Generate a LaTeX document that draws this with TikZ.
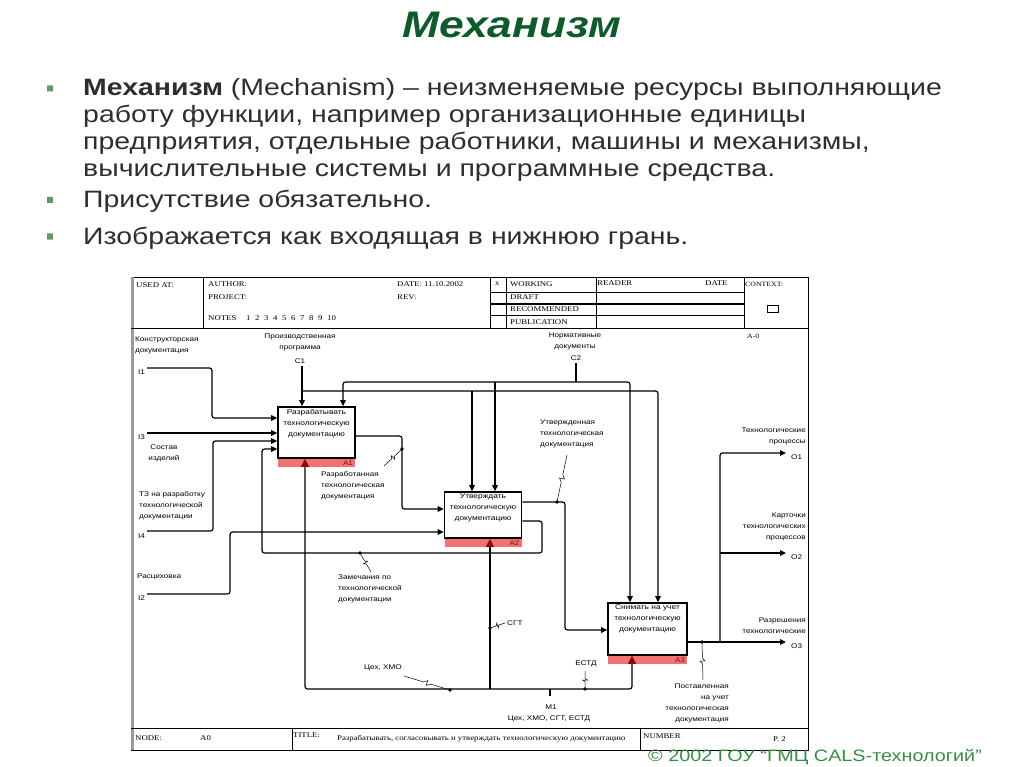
\documentclass[tikz,border=0pt]{standalone}
\usepackage{fontspec}
\setmainfont{Liberation Sans}
\newfontfamily\slidefont[FakeStretch=1.2]{Liberation Sans}
\newfontfamily\formfont[FakeStretch=1.2]{Liberation Serif}
\usepackage{xcolor}
\usepackage{tikz}
\usetikzlibrary{calc,positioning,arrows.meta}
\definecolor{SlideGreen}{HTML}{0F5A2D}
\definecolor{SlideBullet}{HTML}{5E9A6C}
\definecolor{SlideInk}{HTML}{2E2E2E}
\definecolor{SlideCopy}{HTML}{3A8C45}
\definecolor{IdefBar}{HTML}{F07272}
\definecolor{IdefTip}{HTML}{8B0A0A}
\definecolor{IdefEdge}{HTML}{9A9A9A}

\begin{document}
\begin{tikzpicture}[x=1pt,y=-1pt,
  fn/.style={draw,line width=1.6pt,minimum width=77pt,minimum height=51pt,inner sep=0pt},
  fntext/.style={font=\slidefont\fontsize{7}{11}\selectfont,align=center,inner sep=0pt},
  bar/.style={fill=IdefBar,minimum width=77pt,minimum height=8pt,inner sep=0pt,anchor=north},
  barlbl/.style={font=\slidefont\fontsize{6.8}{8}\selectfont,text=IdefTip,inner sep=0pt,anchor=east},
  arrow/.style={-{Triangle[length=6pt,width=5.5pt]},line width=1.2pt,rounded corners=2.5pt},
  wire/.style={line width=1.2pt,rounded corners=2.5pt},
  mech/.style={-{Triangle[length=8pt,width=8pt,color=IdefTip]},line width=1.2pt,rounded corners=2.5pt},
  lbl/.style={font=\slidefont\fontsize{6.8}{11}\selectfont,inner sep=0pt},
  squig/.style={line width=0.5pt,to path={-- ($(\tikztostart)!0.42!(\tikztotarget)$)
    -- ($(\tikztostart)!0.5!(\tikztotarget)!2.5pt!90:(\tikztotarget)$)
    -- ($(\tikztostart)!0.5!(\tikztotarget)!2.5pt!-90:(\tikztotarget)$)
    -- ($(\tikztostart)!0.58!(\tikztotarget)$) -- (\tikztotarget)}},
  form/.style={font=\formfont\fontsize{7.3}{9}\selectfont,inner sep=0pt,anchor=west},
  body/.style={font=\slidefont\fontsize{23.7}{27}\selectfont,text=SlideInk,inner sep=0pt,anchor=base west}
]
\useasboundingbox (0,0) rectangle (1024,767);

\node[font=\slidefont\bfseries\itshape\fontsize{37}{40}\selectfont,text=SlideGreen,anchor=base] (title) at (512,38) {Механизм};

\fill[SlideBullet] (47,85.5) rectangle (53,91.5) (47,197) rectangle (53,203) (47,233.5) rectangle (53,239.5);
\node[body] (b1l1) at (83,96) {\textbf{Механизм} (Mechanism) – неизменяемые ресурсы выполняющие};
\node[body] (b1l2) at (83,123) {работу функции, например организационные единицы};
\node[body] (b1l3) at (83,150) {предприятия, отдельные работники, машины и механизмы,};
\node[body] (b1l4) at (83,177) {вычислительные системы и программные средства.};
\node[body] (b2) at (83,208) {Присутствие обязательно.};
\node[body] (b3) at (83,244) {Изображается как входящая в нижнюю грань.};

\draw[line width=0.8pt] (131,277) rectangle (808,750);
\draw[IdefEdge,line width=2.5pt] (132.5,277) -- (132.5,750);
\draw[line width=0.8pt] (131,328) -- (808,328) (131,728) -- (808,728)
  (203,277) -- (203,328) (490,277) -- (490,328) (506,277) -- (506,328)
  (596,277) -- (596,328) (744,277) -- (744,328)
  (490,292) -- (744,292) (490,315) -- (744,315)
  (292,728) -- (292,750) (640,728) -- (640,750);
\draw[line width=1.6pt] (490,304) -- (744,304);
\draw[line width=0.6pt] (767,305) rectangle (778,312);

\node[form] (usedat) at (136,285) {USED AT:};
\node[form] (author) at (208,284) {AUTHOR:};
\node[form] (project) at (208,297) {PROJECT:};
\node[form] (notes) at (208,318) {NOTES};
\foreach \k in {1,...,10} \node[form] (note\k) at (246+9*\k-9,318) {\k};
\node[form] (date) at (397,284) {DATE: 11.10.2002};
\node[form] (rev) at (397,297) {REV:};
\node[form] (mark) at (495,284) {x};
\node[form] (working) at (510,284) {WORKING};
\node[form] (draft) at (510,297) {DRAFT};
\node[form] (recommended) at (510,309) {RECOMMENDED};
\node[form] (publication) at (510,322) {PUBLICATION};
\node[form] (reader) at (597,283) {READER};
\node[form] (rdate) at (705,283) {DATE};
\node[form,font=\formfont\fontsize{6.5}{8}\selectfont] (context) at (745,284) {CONTEXT:};
\node[form,font=\formfont\fontsize{6.5}{8}\selectfont] (ctxno) at (747,336) {A-0};
\node[form] (node) at (135,738) {NODE:};
\node[form] (nodeno) at (200,738) {A0};
\node[form] (titlehd) at (293,735) {TITLE:};
\node[form] (titletx) at (337,739) {Разрабатывать, согласовывать и утверждать технологическую документацию};
\node[form] (number) at (643,736) {NUMBER};
\node[form] (page) at (773,739) {P. 2};

\node[fn] (a1) at (316.5,432.5) {};
\node[fn,minimum height=46pt] (a2) at (483,515) {};
\node[fn,minimum width=79pt,minimum height=52pt] (a3) at (647.5,629) {};
\node[bar] (a1bar) at (a1.south) {};
\node[bar] (a2bar) at (a2.south) {};
\node[bar,minimum width=79pt] (a3bar) at (a3.south) {};
\node[barlbl] (a1no) at ([xshift=-2pt]a1bar.east) {A1};
\node[barlbl] (a2no) at ([xshift=-2pt]a2bar.east) {A2};
\node[barlbl] (a3no) at ([xshift=-2pt]a3bar.east) {A3};
\node[fntext] (a1txt) at (316.5,424) {Разрабатывать\\технологическую\\документацию};
\node[fntext] (a2txt) at (483,508) {Утверждать\\технологическую\\документацию};
\node[fntext] (a3txt) at (647.5,619) {Снимать на учет\\технологическую\\документацию};

\coordinate (i1) at (147,368);
\coordinate (i3) at (147,433);
\coordinate (i4) at (147,531);
\coordinate (i2) at (147,594);
\coordinate (c1) at (302,366);
\coordinate (c2) at (576,363);
\coordinate (m1) at (550,696);
\coordinate (o1) at (786,453);
\coordinate (o2) at (786,553);
\coordinate (o3) at (786,642);

\draw[arrow] (i1) -| (212,418) -- (212,418 -| a1.west);
\draw[arrow] (i3) -- (i3 -| a1.west);
\draw[arrow] (i4) -| (213,441) -- (213,441 -| a1.west);
\draw[arrow] (i2) -| (230,532) -- (230,532 -| a2.west);
\draw[arrow] (a1.east |- 0,436) -| (402,509) -- (402,509 -| a2.west);
\draw[arrow] (a2.east |- 0,521) -| (542,553) -| (262,449) -- (262,449 -| a1.west);
\draw[arrow] (a2.east |- 0,502) -| (565,630) -- (565,630 -| a3.west);
\draw[arrow] (a3.east |- 0,642) -- (o3);
\draw[arrow] (720,642) |- (o1);
\draw[arrow] (720,553) -- (o2);

\draw[arrow] (c1) -- (c1 |- a1.north);
\draw[arrow] (302,391) -| (a3.north -| 658,0);
\draw[arrow] (472,391) -- (a2.north -| 472,0);
\draw[wire] (c2) -- (576,382);
\draw[arrow] (576,382) -| (a1.north -| 343,0);
\draw[arrow] (576,382) -| (a3.north -| 630,0);
\draw[arrow] (495,382) -- (a2.north -| 495,0);

\draw[wire] (m1) -- (550,689);
\draw[mech] (550,689) -| (a1.south -| 305,0);
\draw[mech] (550,689) -| (a3.south -| 632,0);
\draw[mech] (490,689) -- (a2.south -| 490,0);

\coordinate (d1) at (402,449);  \coordinate (s1) at (384,466);
\coordinate (d2) at (360,553);  \coordinate (s2) at (371,572);
\coordinate (d3) at (557,502);  \coordinate (s3) at (567,455);
\coordinate (d4) at (702,642);  \coordinate (s4) at (703,680);
\coordinate (d5) at (450,690);  \coordinate (s5) at (404,676);
\coordinate (d6) at (490,628);  \coordinate (s6) at (505,623);
\coordinate (d7) at (585,689);  \coordinate (s7) at (585,671);
\foreach \k in {1,...,7} {\fill (d\k) circle (1.8pt); \draw[squig] (s\k) to (d\k);}

\node[lbl,anchor=west,align=left] (lcon) at (135,345) {Конструкторская\\документация};
\node[lbl,anchor=west] (li1) at (138,372) {I1};
\node[lbl,anchor=west] (li3) at (138,437) {I3};
\node[lbl,align=center] (lsost) at (164,453) {Состав\\изделий};
\node[lbl,anchor=west,align=left] (ltz) at (139,506) {ТЗ на разработку\\технологической\\документации};
\node[lbl,anchor=west] (li4) at (138,536) {I4};
\node[lbl,anchor=west] (lras) at (137,577) {Расцеховка};
\node[lbl,anchor=west] (li2) at (138,598) {I2};
\node[lbl,align=center] (lprod) at (300,342) {Производственная\\программа};
\node[lbl] (lc1) at (300,361) {C1};
\node[lbl,align=center] (lnorm) at (575,341) {Нормативные\\документы};
\node[lbl] (lc2) at (576,358) {C2};
\node[lbl,anchor=west,align=left] (lrazr) at (321,486) {Разработанная\\технологическая\\документация};
\node[lbl,anchor=west,align=left] (lzam) at (338,589) {Замечания по\\технологической\\документации};
\node[lbl,anchor=west,align=left] (lutv) at (540,434) {Утвержденная\\технологическая\\документация};
\node[lbl,anchor=east,align=right] (lpost) at (729,703) {Поставленная\\на учет\\технологическая\\документация};
\node[lbl,anchor=east,align=right] (ltp) at (806,436) {Технологические\\процессы};
\node[lbl,anchor=west] (lo1) at (791,457) {O1};
\node[lbl,anchor=east,align=right] (lkart) at (806,527) {Карточки\\технологических\\процессов};
\node[lbl,anchor=west] (lo2) at (791,557) {O2};
\node[lbl,anchor=east,align=right] (lrazresh) at (806,626) {Разрешения\\технологические};
\node[lbl,anchor=west] (lo3) at (791,646) {O3};
\node[lbl] (lceh) at (383,668) {Цех, ХМО};
\node[lbl,anchor=west] (lsgt) at (507,623) {СГТ};
\node[lbl] (lestd) at (586,664) {ЕСТД};
\node[lbl] (lm1) at (551,707) {M1};
\node[lbl] (lm1all) at (549,719) {Цех, ХМО, СГТ, ЕСТД};

\node[font=\slidefont\fontsize{16.5}{18}\selectfont,text=SlideCopy,inner sep=0pt] (copy) at (815,757) {© 2002 ГОУ “ГМЦ CALS-технологий”};
\end{tikzpicture}
\end{document}
